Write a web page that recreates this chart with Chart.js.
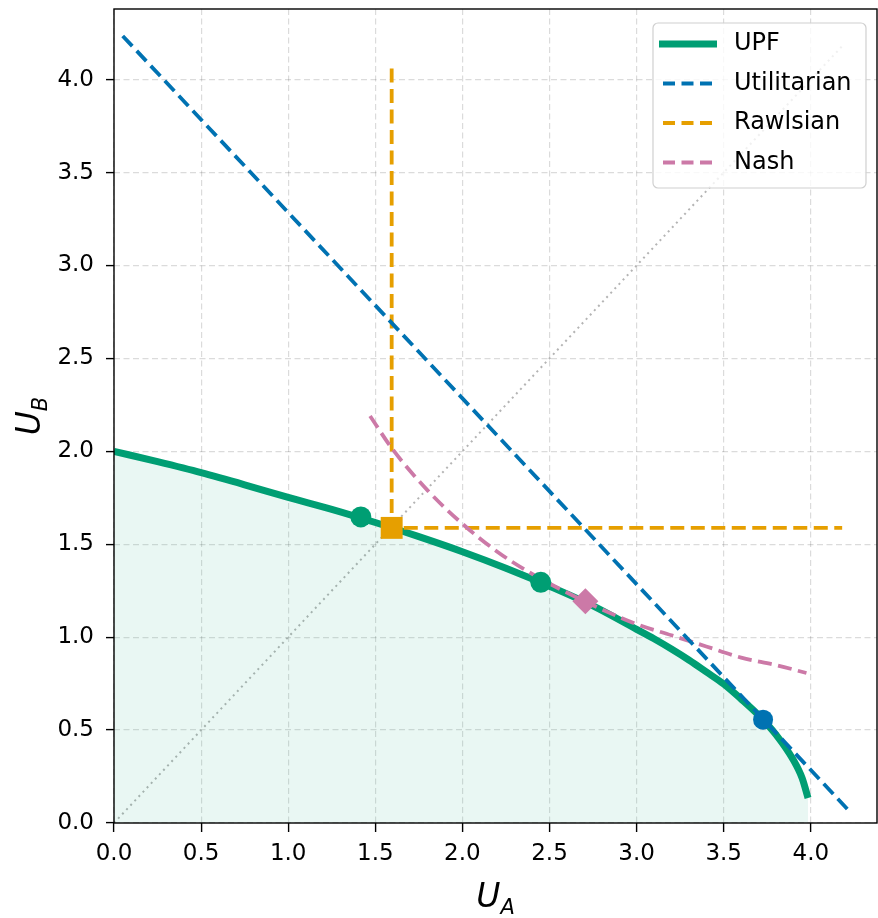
<!DOCTYPE html>
<html>
<head>
<meta charset="utf-8">
<script src="https://cdn.jsdelivr.net/npm/chart.js@4.4.1/dist/chart.umd.min.js"></script>
<style>
html,body{margin:0;padding:0;background:#ffffff;}
#wrap{width:878px;height:918px;position:relative;}
</style>
</head>
<body>
<div id="wrap"><canvas id="c" width="878" height="918"></canvas></div>
<script>
// ---- data ----
const xTicks = [0.0, 0.5, 1.0, 1.5, 2.0, 2.5, 3.0, 3.5, 4.0];
const yTicks = [0.0, 0.5, 1.0, 1.5, 2.0, 2.5, 3.0, 3.5, 4.0];
const upfA = [0, 0.25, 0.5, 0.75, 1.0, 1.25, 1.5, 1.75, 2.0, 2.25, 2.5, 2.75, 3.0, 3.1, 3.2, 3.3, 3.4, 3.5, 3.6, 3.7, 3.8, 3.9, 3.95, 3.984];
const upfB = [2.0, 1.944, 1.885, 1.820, 1.752, 1.688, 1.617, 1.541, 1.460, 1.371, 1.274, 1.168, 1.042, 0.991, 0.936, 0.877, 0.813, 0.748, 0.667, 0.580, 0.476, 0.339, 0.242, 0.135];
const utilA = [0.05, 4.22];
const utilB = [4.235, 0.065];
const rawlsA = [1.594, 1.594, 4.18];
const rawlsB = [4.06, 1.588, 1.588];
const nashA = [1.47, 1.6, 1.8, 2.0, 2.2, 2.4, 2.6, 2.8, 3.0, 3.2, 3.4, 3.6, 3.8, 3.975];
const nashB = [2.19, 2.01, 1.79, 1.61, 1.46, 1.34, 1.24, 1.15, 1.07, 1.01, 0.95, 0.89, 0.85, 0.807];
const diagA = [0, 4.18];
const diagB = [0, 4.18];
const otherPtsA = [1.417, 2.45];
const otherPtsB = [1.647, 1.295];
const rawlsPt = [1.594, 1.588];
const nashPt = [2.706, 1.193];
const utilPt = [3.726, 0.556];
const legendLabels = ['UPF', 'Utilitarian', 'Rawlsian', 'Nash'];

const GREEN = '#009E73', BLUE = '#0072B2', ORANGE = '#E69F00', PINK = '#CC79A7';
const FONT = '"DejaVu Sans", sans-serif';

function pts(a, b) { return a.map((v, i) => ({x: v, y: b[i]})); }

const frameAndLabels = {
  id: 'frameAndLabels',
  afterDraw(chart) {
    const ctx = chart.ctx, ca = chart.chartArea;
    ctx.save();
    // frame
    ctx.strokeStyle = '#000';
    ctx.lineWidth = 1.4;
    ctx.setLineDash([]);
    ctx.strokeRect(ca.left, ca.top, ca.right - ca.left, ca.bottom - ca.top);

    // legend
    const lx = 653, ly = 23, lw = 213, lh = 165, r = 5;
    ctx.beginPath();
    ctx.moveTo(lx + r, ly);
    ctx.arcTo(lx + lw, ly, lx + lw, ly + lh, r);
    ctx.arcTo(lx + lw, ly + lh, lx, ly + lh, r);
    ctx.arcTo(lx, ly + lh, lx, ly, r);
    ctx.arcTo(lx, ly, lx + lw, ly, r);
    ctx.closePath();
    ctx.fillStyle = 'rgba(255,255,255,0.8)';
    ctx.fill();
    ctx.strokeStyle = '#d0d0d0';
    ctx.lineWidth = 1.2;
    ctx.stroke();
    const rows = [44, 83.5, 123, 162.5];
    const cols = [GREEN, BLUE, ORANGE, PINK];
    rows.forEach((yy, i) => {
      ctx.beginPath();
      ctx.strokeStyle = cols[i];
      if (i === 0) { ctx.lineWidth = 7; ctx.setLineDash([]); ctx.moveTo(659, yy); ctx.lineTo(717, yy); }
      else { ctx.lineWidth = 3.8; ctx.setLineDash([12, 6.5]); ctx.moveTo(663, yy); ctx.lineTo(713, yy); }
      ctx.stroke();
      ctx.setLineDash([]);
      ctx.fillStyle = '#000';
      ctx.font = '24px ' + FONT;
      ctx.textBaseline = 'middle';
      ctx.textAlign = 'left';
      ctx.fillText(legendLabels[i], 734, yy);
    });

    // axis titles
    ctx.fillStyle = '#000';
    ctx.textBaseline = 'alphabetic';
    ctx.textAlign = 'left';
    ctx.font = 'italic 33px ' + FONT;
    const uW = ctx.measureText('U').width;
    ctx.font = 'italic 21px ' + FONT;
    const aW = ctx.measureText('A').width;
    const cx = (ca.left + ca.right) / 2;
    let sx = cx - (uW + aW) / 2;
    ctx.font = 'italic 33px ' + FONT;
    ctx.fillText('U', sx, 907);
    ctx.font = 'italic 21px ' + FONT;
    ctx.fillText('A', sx + uW, 914);

    ctx.save();
    ctx.translate(40, (ca.top + ca.bottom) / 2);
    ctx.rotate(-Math.PI / 2);
    ctx.font = 'italic 33px ' + FONT;
    const uW2 = ctx.measureText('U').width;
    ctx.font = 'italic 21px ' + FONT;
    const bW = ctx.measureText('B').width;
    sx = -(uW2 + bW) / 2;
    ctx.font = 'italic 33px ' + FONT;
    ctx.fillText('U', sx, 0);
    ctx.font = 'italic 21px ' + FONT;
    ctx.fillText('B', sx + uW2, 7);
    ctx.restore();

    ctx.restore();
  }
};

const lineBase = {showLine: true, pointRadius: 0, pointHoverRadius: 0, fill: false};
function noPad(s) { s.paddingTop = 0; s.paddingBottom = 0; s.paddingLeft = 0; s.paddingRight = 0; }

new Chart(document.getElementById('c'), {
  type: 'scatter',
  data: {
    datasets: [
      Object.assign({}, lineBase, {label: 'diag', data: pts(diagA, diagB), borderColor: '#b4b4b4', borderWidth: 2, borderDash: [2, 4], order: 10}),
      Object.assign({}, lineBase, {label: 'UPF', data: pts(upfA, upfB), borderColor: GREEN, borderWidth: 7, cubicInterpolationMode: 'monotone', fill: 'origin', backgroundColor: 'rgba(0,158,115,0.085)', order: 9, borderCapStyle: 'butt'}),
      Object.assign({}, lineBase, {label: 'Rawlsian', data: pts(rawlsA, rawlsB), borderColor: ORANGE, borderWidth: 3.8, borderDash: [14, 6.5], order: 8}),
      Object.assign({}, lineBase, {label: 'Nash', data: pts(nashA, nashB), borderColor: PINK, borderWidth: 3.8, borderDash: [14, 6.5], cubicInterpolationMode: 'monotone', order: 7}),
      Object.assign({}, lineBase, {label: 'Utilitarian', data: pts(utilA, utilB), borderColor: BLUE, borderWidth: 3.8, borderDash: [14, 6.5], order: 6}),
      {label: 'others', data: pts(otherPtsA, otherPtsB), showLine: false, pointRadius: 10.5, pointBackgroundColor: GREEN, pointBorderColor: GREEN, pointBorderWidth: 0, order: 4},
      {label: 'rawlsPt', data: [{x: rawlsPt[0], y: rawlsPt[1]}], showLine: false, pointStyle: 'rect', pointRadius: 15.5, pointBackgroundColor: ORANGE, pointBorderColor: ORANGE, pointBorderWidth: 0, order: 3},
      {label: 'nashPt', data: [{x: nashPt[0], y: nashPt[1]}], showLine: false, pointStyle: 'rectRot', pointRadius: 13, pointBackgroundColor: PINK, pointBorderColor: PINK, pointBorderWidth: 0, order: 2},
      {label: 'utilPt', data: [{x: utilPt[0], y: utilPt[1]}], showLine: false, pointRadius: 10, pointBackgroundColor: BLUE, pointBorderColor: BLUE, pointBorderWidth: 0, order: 1}
    ]
  },
  options: {
    responsive: false,
    animation: false,
    devicePixelRatio: 1,
    layout: {autoPadding: false, padding: {top: 9, right: 1, left: 0, bottom: 0}},
    plugins: {legend: {display: false}, tooltip: {enabled: false}},
    scales: {
      x: {
        type: 'linear', min: 0, max: 4.38,
        afterFit(s) { s.height = 95; noPad(s); },
        afterBuildTicks(s) { s.ticks = xTicks.map(v => ({value: v})); },
        ticks: {font: {size: 23, family: FONT}, color: '#000', padding: 8, callback: v => Number(v).toFixed(1), maxRotation: 0, autoSkip: false},
        grid: {color: 'rgba(0,0,0,0.14)', lineWidth: 1.2, tickLength: 9, tickColor: '#000', tickWidth: 1.4, tickBorderDash: []},
        border: {display: false, dash: [6, 3.5]}
      },
      y: {
        type: 'linear', min: 0, max: 4.38,
        afterFit(s) { s.width = 114; noPad(s); },
        afterBuildTicks(s) { s.ticks = yTicks.map(v => ({value: v})); },
        ticks: {font: {size: 23, family: FONT}, color: '#000', padding: 12, callback: v => Number(v).toFixed(1), autoSkip: false},
        grid: {color: 'rgba(0,0,0,0.14)', lineWidth: 1.2, tickLength: 8, tickColor: '#000', tickWidth: 1.4, tickBorderDash: []},
        border: {display: false, dash: [6, 3.5]}
      }
    }
  },
  plugins: [frameAndLabels]
});
</script>
</body>
</html>
